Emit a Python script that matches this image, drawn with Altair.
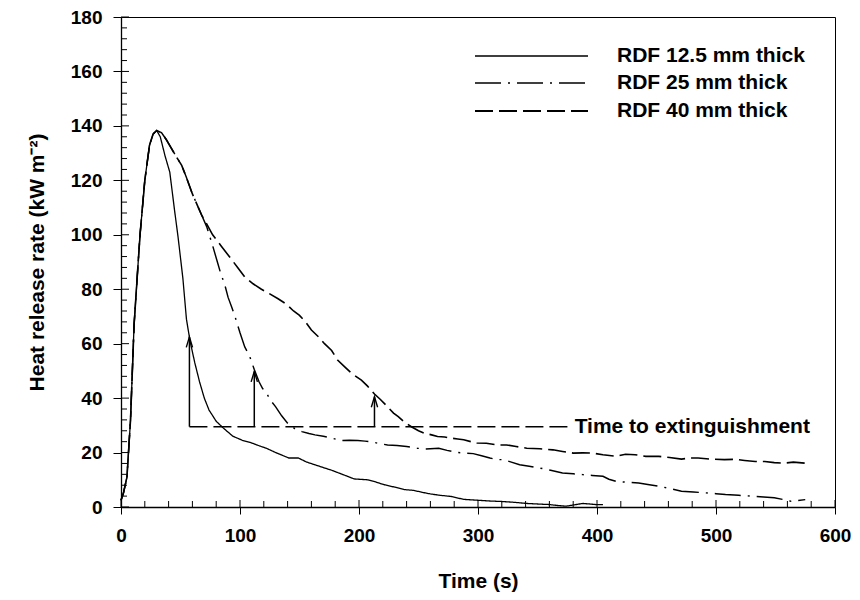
import altair as alt
import pandas as pd

# ---------------- data ----------------
series_names = ["RDF 12.5 mm thick", "RDF 25 mm thick", "RDF 40 mm thick"]

rise_t = [0, 2, 5, 8, 11, 14, 16, 20, 24, 27, 30]
rise_q = [2.5, 5, 11, 32, 67, 87, 100, 120, 133, 137, 138.3]

t_125 = rise_t + [33, 37, 41, 45, 48, 52, 55, 58, 62, 66, 70, 74, 80, 86, 94, 102, 110, 116,
                  122, 130, 141, 149, 156, 163, 170, 177, 186, 196, 207, 214, 221, 230, 238,
                  246, 253, 260, 268, 277, 288, 299, 310, 321, 331, 341, 350, 360, 368, 374,
                  381, 388, 394, 399, 405]
q_125 = rise_q + [136, 129, 123, 109, 99, 84, 69, 61, 53, 46, 40, 35.6, 31.5, 29, 26, 24.5,
                  23.5, 22.5, 21.6, 20, 18, 18, 16.5, 15.5, 14.5, 13.5, 12, 10.3, 10, 9.2, 8.2,
                  7.3, 6.4, 6.1, 5.4, 4.8, 4.3, 3.9, 2.8, 2.5, 2.2, 2.0, 1.7, 1.3, 1.1, 0.9,
                  0.5, 0.3, 0.8, 1.3, 1.1, 0.9, 0.9]

t_25 = rise_t + [34, 38, 42, 46, 51, 55, 60, 64, 68, 72, 77, 81, 84, 87, 90, 93, 96, 100, 104,
                 108, 112, 116, 119, 122, 126, 130, 135, 140, 146, 152, 158, 163, 170, 177, 185,
                 192, 199, 205, 210, 218, 224, 232, 240, 249, 255, 260, 267, 274, 283, 290, 296,
                 303, 310, 316, 321, 328, 335, 343, 352, 361, 371, 380, 388, 396, 405, 410, 416,
                 425, 435, 444, 452, 461, 471, 481, 491, 500, 508, 519, 530, 540, 549, 556, 563,
                 569, 575]
q_25 = rise_q + [137.5, 135, 132, 129, 125.5, 121, 115, 111, 107, 103, 96, 90, 85.5, 82, 77,
                 73.5, 69.7, 64, 58.8, 55.5, 50.5, 46, 43.5, 42, 39, 36.8, 33.5, 30.8, 28.8,
                 27.7, 27, 26.5, 26, 25.3, 24.4, 24.5, 24.4, 24.2, 24, 23.2, 22.8, 22.6, 22.2,
                 21.6, 21.3, 21.4, 21.6, 20.8, 20, 19.8, 19.6, 18.8, 18, 17.4, 17.4, 16.5, 15.5,
                 15, 14.3, 13.5, 12.5, 12.2, 11.9, 11.6, 11.3, 10.2, 9.4, 9.1, 8.8, 8.2, 7.6,
                 6.8, 5.8, 5.5, 5.2, 4.9, 4.6, 4.3, 4, 3.7, 3.4, 2.8, 2.1, 2.4, 2.7]

t_40 = rise_t + [34, 38, 42, 46, 51, 55, 60, 64, 68, 72, 77, 84, 91, 98, 104, 111, 118, 125,
                 132, 139, 145, 150, 155, 160, 166, 171, 177, 182, 188, 194, 202, 207, 213, 218,
                 224, 229, 233, 238, 244, 250, 255, 261, 266, 272, 277, 283, 288, 294, 299, 307,
                 316, 324, 332, 341, 352, 363, 371, 380, 388, 396, 405, 416, 424, 432, 441, 452,
                 461, 471, 478, 485, 495, 507, 516, 524, 533, 541, 549, 557, 565, 575]
q_40 = rise_q + [137.5, 135, 132, 129, 125.5, 121, 115, 111, 107, 104, 100, 96, 92, 88, 84.5,
                 82, 80, 78.3, 76.5, 74.5, 72, 70.4, 68, 65, 62.5, 60, 57.5, 54, 51.5, 49, 46.6,
                 44.5, 41.5, 39.5, 36.8, 34.5, 33.2, 31.2, 29.5, 28, 27.1, 26.5, 25.9, 25.7,
                 25.3, 25, 24.7, 24, 23.5, 23.4, 22.8, 22.8, 22.2, 21.6, 21.4, 21, 20.4, 19.8,
                 19.9, 19.8, 19.2, 18.6, 19.4, 19.2, 18.6, 18.6, 18.2, 17.6, 18, 18, 17.6, 17.4,
                 17.5, 17.1, 16.7, 16.7, 16.3, 16.1, 16.5, 16.1]

# time to extinguishment annotation
ext_t = [57.5, 112, 213]
ext_q = [62.5, 49.8, 40.5]
ext_level = 29.5
ext_line_end = 377
ext_label = "Time to extinguishment"

x_major = [0, 100, 200, 300, 400, 500, 600]
x_minor = [v for v in range(0, 601, 20) if v % 100 != 0]
y_major = list(range(0, 181, 20))
y_minor = [v for v in range(0, 181, 4) if v % 20 != 0]

# ---------------- chart ----------------
W, H = 714, 490
FONT = "Liberation Sans"
dash_solid = [1, 0]
dash_dashdot = [26, 7, 2, 7]
dash_dash = [18, 6]
dashes = [dash_solid, dash_dashdot, dash_dash]
widths = [1.3, 1.6, 1.9]

frames = []
for name, tt, qq in zip(series_names, [t_125, t_25, t_40], [q_125, q_25, q_40]):
    frames.append(pd.DataFrame({"t": tt, "q": qq, "series": name}))
df = pd.concat(frames, ignore_index=True)

xs = alt.Scale(domain=[0, 600], nice=False, zero=False)
ys = alt.Scale(domain=[0, 180], nice=False, zero=False)

x_axis = alt.Axis(values=x_major, tickSize=7, labelPadding=12, labelFlush=False,
                  title="Time (s)", titlePadding=25, grid=False)
y_axis = alt.Axis(values=y_major, tickSize=8, labelPadding=11, labelFlush=False,
                  title="Heat release rate (kW m\u207b\u00b2)", titlePadding=23, grid=False)

curves = alt.Chart(df).mark_line(color="black").encode(
    x=alt.X("t:Q", scale=xs, axis=x_axis),
    y=alt.Y("q:Q", scale=ys, axis=y_axis),
    strokeDash=alt.StrokeDash("series:N", scale=alt.Scale(domain=series_names, range=dashes),
                              legend=None),
    strokeWidth=alt.StrokeWidth("series:N", scale=alt.Scale(domain=series_names, range=widths),
                                legend=None),
    detail="series:N",
)

# inner ticks
xmin_df = pd.DataFrame({"v": x_minor})
xmaj_df = pd.DataFrame({"v": x_major})
ymin_df = pd.DataFrame({"v": y_minor})
ymaj_df = pd.DataFrame({"v": y_major})

xt_minor = alt.Chart(xmin_df).mark_rule(color="black", strokeWidth=1).encode(
    x=alt.X("v:Q", scale=xs), y=alt.value(H), y2=alt.value(H - 6))
xt_major = alt.Chart(xmaj_df).mark_rule(color="black", strokeWidth=1).encode(
    x=alt.X("v:Q", scale=xs), y=alt.value(H), y2=alt.value(H - 7))
yt_minor = alt.Chart(ymin_df).mark_rule(color="black", strokeWidth=1).encode(
    y=alt.Y("v:Q", scale=ys), x=alt.value(0), x2=alt.value(6))
yt_major = alt.Chart(ymaj_df).mark_rule(color="black", strokeWidth=1).encode(
    y=alt.Y("v:Q", scale=ys), x=alt.value(0), x2=alt.value(8))

# extinguishment annotation
ext_df = pd.DataFrame({"t": ext_t, "q": ext_q, "base": ext_level})
hline_df = pd.DataFrame({"t0": [ext_t[0]], "t1": [ext_line_end], "q": [ext_level],
                         "label": [ext_label]})

hline = alt.Chart(hline_df).mark_rule(color="black", strokeWidth=1.5, strokeDash=dash_dash).encode(
    x=alt.X("t0:Q", scale=xs), x2="t1:Q", y=alt.Y("q:Q", scale=ys))
hlabel = alt.Chart(hline_df).mark_text(font=FONT, fontSize=21, fontWeight="bold", align="left",
                                       baseline="middle", dx=5, color="black").encode(
    x=alt.X("t1:Q", scale=xs), y=alt.Y("q:Q", scale=ys), text="label:N")
arrows = alt.Chart(ext_df).mark_rule(color="black", strokeWidth=1.5).encode(
    x=alt.X("t:Q", scale=xs), y=alt.Y("base:Q", scale=ys), y2="q:Q")
heads = alt.Chart(ext_df).mark_point(shape="M-0.3,1L0,0L0.3,1", filled=False, color="black",
                                     strokeWidth=1.4, size=440, opacity=1).encode(
    x=alt.X("t:Q", scale=xs), y=alt.Y("q:Q", scale=ys))

# legend (drawn by hand in the upper right)
legend_layers = []
leg_y = [39, 66, 94]
for name, dsh, wd, ly in zip(series_names, dashes, widths, leg_y):
    ldf = pd.DataFrame({"label": [name]})
    legend_layers.append(
        alt.Chart(ldf).mark_rule(color="black", strokeWidth=wd, strokeDash=dsh).encode(
            x=alt.value(354), x2=alt.value(467), y=alt.value(ly)))
    legend_layers.append(
        alt.Chart(ldf).mark_text(font=FONT, fontSize=21, fontWeight="bold", align="left",
                                 baseline="middle", color="black").encode(
            x=alt.value(496), y=alt.value(ly), text="label:N"))

chart = alt.layer(
    curves, xt_minor, xt_major, yt_minor, yt_major, hline, hlabel, arrows, heads,
    *legend_layers
).properties(
    width=W, height=H,
    padding={"left": 113, "top": 9, "right": 17, "bottom": 85},
    autosize=alt.AutoSizeParams(type="none"),
).configure_view(
    stroke="black", strokeWidth=1
).configure_axis(
    labelFont=FONT, labelFontSize=19, labelFontWeight="bold", labelColor="black",
    titleFont=FONT, titleFontSize=21, titleFontWeight="bold", titleColor="black",
    domainColor="black", domainWidth=1.3, tickColor="black", tickWidth=1,
)

chart.save("out.html", embed_options={"renderer": "svg", "actions": False})
